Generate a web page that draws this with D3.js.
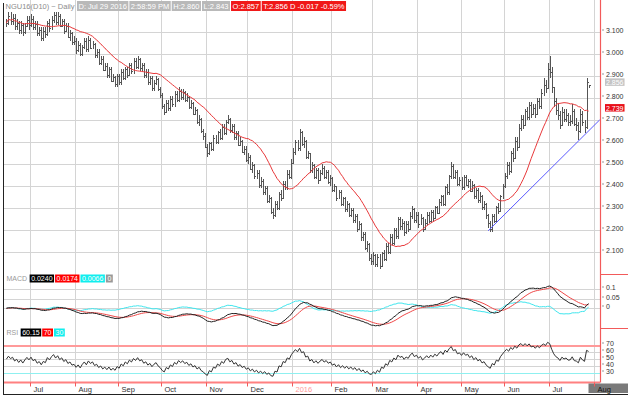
<!DOCTYPE html>
<html>
<head>
<meta charset="utf-8">
<script src="https://cdn.jsdelivr.net/npm/d3@7"></script>
<style>
  body { margin: 0; background: #fff; }
  text { font-family: "Liberation Sans", Arial, sans-serif; }
</style>
</head>
<body>
<div id="chart"></div>
<script>
// trading calendar
const startDate = "2015-06-15";
const endDate = "2016-07-29";
const holidays = ["2015-07-03", "2015-09-07", "2015-11-26", "2015-12-25", "2016-01-01",
  "2016-01-18", "2016-02-15", "2016-03-25", "2016-05-30", "2016-07-04"];

// daily closes, one line per month
const close = [
  3.140, 3.172, 3.148, 3.162, 3.125, 3.141, 3.108, 3.132, 3.098, 3.128, 3.155, 3.130,
  3.158, 3.121, 3.135, 3.092, 3.108, 3.070, 3.102, 3.088, 3.141, 3.116, 3.152, 3.178, 3.142, 3.170, 3.128, 3.148, 3.105, 3.126, 3.078, 3.094, 3.052, 3.060,
  3.018, 3.041, 2.998, 3.032, 3.058, 3.020, 3.062, 3.028, 3.045, 2.995, 3.008, 2.960, 2.975, 2.928, 2.946, 2.905, 2.930, 2.878, 2.895, 2.862, 2.898,
  2.872, 2.915, 2.888, 2.930, 2.905, 2.948, 2.922, 2.965, 2.940, 2.975, 2.935, 2.948, 2.902, 2.918, 2.872, 2.890, 2.842, 2.868, 2.885, 2.838, 2.812,
  2.762, 2.735, 2.778, 2.752, 2.795, 2.770, 2.815, 2.790, 2.832, 2.805, 2.825, 2.788, 2.802, 2.758, 2.775, 2.728, 2.742, 2.688, 2.705, 2.648, 2.625, 2.578,
  2.548, 2.592, 2.568, 2.615, 2.598, 2.642, 2.618, 2.665, 2.640, 2.688, 2.702, 2.655, 2.672, 2.621, 2.638, 2.585, 2.602, 2.555, 2.568, 2.518,
  2.532, 2.478, 2.495, 2.442, 2.458, 2.405, 2.422, 2.372, 2.390, 2.332, 2.345, 2.282, 2.268, 2.315, 2.298, 2.362, 2.345, 2.408, 2.392, 2.455, 2.438, 2.505,
  2.552, 2.598, 2.572, 2.642, 2.588, 2.605, 2.532, 2.548, 2.472, 2.495, 2.438, 2.470, 2.425, 2.458, 2.482, 2.440, 2.462, 2.418, 2.435,
  2.382, 2.398, 2.345, 2.372, 2.318, 2.342, 2.295, 2.318, 2.268, 2.290, 2.242, 2.262, 2.205, 2.228, 2.165, 2.182, 2.118, 2.135, 2.072, 2.058,
  2.085, 2.042, 2.078, 2.035, 2.092, 2.068, 2.125, 2.098, 2.165, 2.140, 2.198, 2.172, 2.248, 2.215, 2.232, 2.188, 2.225, 2.205, 2.262, 2.292, 2.245, 2.268,
  2.228, 2.255, 2.205, 2.232, 2.268, 2.238, 2.282, 2.255, 2.302, 2.278, 2.325, 2.352, 2.318, 2.395, 2.372, 2.442, 2.488, 2.438, 2.462, 2.408, 2.425,
  2.392, 2.438, 2.405, 2.422, 2.378, 2.405, 2.352, 2.382, 2.335, 2.355, 2.302, 2.318, 2.265, 2.232, 2.205, 2.262, 2.238, 2.302, 2.285, 2.352, 2.398,
  2.445, 2.492, 2.468, 2.548, 2.525, 2.602, 2.578, 2.662, 2.702, 2.675, 2.738, 2.712, 2.765, 2.728, 2.752, 2.725, 2.785, 2.762, 2.822, 2.858, 2.842, 2.930,
  2.915, 2.848, 2.785, 2.742, 2.722, 2.678, 2.735, 2.705, 2.722, 2.688, 2.692, 2.738, 2.682, 2.675, 2.648, 2.728, 2.688, 2.665, 2.873, 2.856
];

const high = [
  3.16, 3.19, 3.19, 3.18, 3.18, 3.16, 3.15, 3.15, 3.14, 3.14, 3.17, 3.17,
  3.18, 3.17, 3.15, 3.15, 3.12, 3.12, 3.12, 3.12, 3.15, 3.16, 3.17, 3.19, 3.19, 3.19, 3.18, 3.16, 3.16, 3.14, 3.14, 3.11, 3.10, 3.08,
  3.07, 3.06, 3.05, 3.04, 3.07, 3.07, 3.08, 3.07, 3.06, 3.05, 3.02, 3.02, 2.99, 2.99, 2.96, 2.96, 2.94, 2.94, 2.91, 2.90, 2.91,
  2.91, 2.93, 2.93, 2.94, 2.94, 2.96, 2.96, 2.98, 2.98, 2.99, 2.98, 2.96, 2.96, 2.93, 2.93, 2.90, 2.90, 2.88, 2.90, 2.89, 2.85,
  2.82, 2.77, 2.79, 2.79, 2.81, 2.81, 2.83, 2.83, 2.85, 2.84, 2.84, 2.83, 2.82, 2.81, 2.79, 2.78, 2.76, 2.75, 2.72, 2.71, 2.66, 2.64,
  2.59, 2.60, 2.60, 2.63, 2.63, 2.65, 2.66, 2.68, 2.68, 2.70, 2.72, 2.71, 2.68, 2.68, 2.65, 2.65, 2.62, 2.61, 2.58, 2.58,
  2.55, 2.54, 2.51, 2.50, 2.47, 2.47, 2.44, 2.43, 2.40, 2.40, 2.36, 2.35, 2.30, 2.33, 2.33, 2.37, 2.38, 2.42, 2.42, 2.47, 2.47, 2.52,
  2.57, 2.61, 2.61, 2.66, 2.65, 2.62, 2.61, 2.56, 2.55, 2.51, 2.50, 2.48, 2.48, 2.47, 2.50, 2.49, 2.47, 2.47, 2.45,
  2.44, 2.41, 2.40, 2.38, 2.38, 2.35, 2.35, 2.33, 2.32, 2.30, 2.30, 2.27, 2.27, 2.24, 2.23, 2.19, 2.19, 2.15, 2.14, 2.09,
  2.10, 2.09, 2.09, 2.09, 2.10, 2.11, 2.14, 2.14, 2.18, 2.18, 2.21, 2.21, 2.26, 2.26, 2.25, 2.24, 2.24, 2.24, 2.28, 2.31, 2.30, 2.28,
  2.28, 2.27, 2.26, 2.25, 2.28, 2.28, 2.29, 2.29, 2.31, 2.31, 2.34, 2.36, 2.36, 2.40, 2.41, 2.45, 2.51, 2.50, 2.47, 2.47, 2.44,
  2.44, 2.45, 2.45, 2.43, 2.43, 2.42, 2.41, 2.39, 2.39, 2.37, 2.36, 2.33, 2.32, 2.27, 2.24, 2.27, 2.27, 2.31, 2.32, 2.36, 2.41,
  2.46, 2.51, 2.51, 2.56, 2.57, 2.62, 2.62, 2.68, 2.72, 2.72, 2.75, 2.76, 2.78, 2.78, 2.77, 2.77, 2.80, 2.80, 2.84, 2.89, 2.88, 2.96,
  2.99, 2.94, 2.85, 2.80, 2.77, 2.74, 2.76, 2.75, 2.75, 2.73, 2.72, 2.77, 2.75, 2.71, 2.69, 2.75, 2.74, 2.70, 2.89, 2.86
];

const low = [
  3.12, 3.13, 3.13, 3.13, 3.11, 3.11, 3.09, 3.09, 3.08, 3.09, 3.12, 3.11,
  3.12, 3.11, 3.11, 3.08, 3.08, 3.06, 3.06, 3.07, 3.08, 3.10, 3.11, 3.14, 3.13, 3.13, 3.12, 3.12, 3.09, 3.10, 3.07, 3.06, 3.04, 3.04,
  3.00, 3.01, 2.99, 2.99, 3.02, 3.01, 3.01, 3.02, 3.02, 2.98, 2.98, 2.95, 2.95, 2.92, 2.92, 2.89, 2.89, 2.87, 2.87, 2.85, 2.85,
  2.86, 2.86, 2.88, 2.88, 2.89, 2.90, 2.91, 2.91, 2.93, 2.93, 2.92, 2.92, 2.89, 2.89, 2.86, 2.86, 2.83, 2.83, 2.86, 2.83, 2.80,
  2.75, 2.72, 2.73, 2.74, 2.74, 2.76, 2.76, 2.78, 2.78, 2.79, 2.79, 2.78, 2.78, 2.75, 2.75, 2.72, 2.72, 2.68, 2.67, 2.64, 2.61, 2.57,
  2.53, 2.54, 2.56, 2.56, 2.59, 2.59, 2.61, 2.61, 2.63, 2.63, 2.68, 2.64, 2.64, 2.61, 2.61, 2.58, 2.58, 2.55, 2.54, 2.51,
  2.50, 2.47, 2.46, 2.43, 2.43, 2.39, 2.39, 2.36, 2.36, 2.32, 2.32, 2.27, 2.25, 2.26, 2.29, 2.29, 2.33, 2.34, 2.38, 2.38, 2.43, 2.43,
  2.50, 2.54, 2.56, 2.56, 2.58, 2.57, 2.52, 2.52, 2.46, 2.46, 2.43, 2.43, 2.41, 2.42, 2.45, 2.43, 2.43, 2.41, 2.40,
  2.37, 2.37, 2.33, 2.34, 2.31, 2.31, 2.28, 2.28, 2.26, 2.26, 2.23, 2.23, 2.19, 2.20, 2.15, 2.15, 2.11, 2.10, 2.06, 2.04,
  2.04, 2.03, 2.03, 2.02, 2.03, 2.06, 2.06, 2.09, 2.09, 2.13, 2.13, 2.16, 2.16, 2.20, 2.20, 2.17, 2.18, 2.19, 2.20, 2.25, 2.23, 2.23,
  2.21, 2.22, 2.19, 2.20, 2.22, 2.23, 2.23, 2.24, 2.25, 2.27, 2.27, 2.31, 2.31, 2.31, 2.36, 2.36, 2.43, 2.43, 2.43, 2.40, 2.40,
  2.38, 2.38, 2.40, 2.39, 2.37, 2.37, 2.34, 2.34, 2.32, 2.32, 2.29, 2.29, 2.25, 2.21, 2.19, 2.19, 2.23, 2.23, 2.27, 2.28, 2.34,
  2.39, 2.43, 2.45, 2.46, 2.51, 2.52, 2.56, 2.57, 2.65, 2.66, 2.67, 2.70, 2.70, 2.71, 2.72, 2.71, 2.72, 2.75, 2.75, 2.81, 2.82, 2.84,
  2.89, 2.82, 2.76, 2.72, 2.70, 2.66, 2.67, 2.69, 2.69, 2.67, 2.67, 2.68, 2.67, 2.65, 2.61, 2.64, 2.67, 2.64, 2.66, 2.843
];

// trend line drawn by hand: [bar index, price]
const trendLine = [[235, 2.195], [289.4, 2.699]];

const priceTicks = [3.1, 3.0, 2.9, 2.8, 2.7, 2.6, 2.5, 2.4, 2.3, 2.2, 2.1];
const macdTicks = [0.1, 0.05, 0];
const macdTickLabels = ["0.1", "0.05", "0"];
const rsiTicks = [70, 60, 50, 40, 30];

const headerItems = [
  ["NGU16(D10) ~ Daily", "none"],
  ["D: Jul 29 2016", "gray"],
  ["2:58:59 PM", "gray"],
  ["H:2.860", "gray"],
  ["L:2.843", "gray"],
  ["O:2.857", "red"],
  ["T:2.856  D  -0.017  -0.59%", "red"]
];
const macdLegend = [["0.0240", "#000"], ["0.0174", "#f00"], ["0.0066", "#1ee"], ["0", "#999"]];
const rsiLegend = [["60.15", "#000"], ["70", "#f00"], ["30", "#1ee"]];

// ---- derived series
const fmt = d3.timeFormat("%Y-%m-%d");
const parse = d3.timeParse("%Y-%m-%d");
const dates = d3.timeDay.range(parse(startDate), d3.timeDay.offset(parse(endDate), 1))
  .filter(d => d.getDay() !== 0 && d.getDay() !== 6 && !holidays.includes(fmt(d)));
const n = Math.min(dates.length, close.length);

const open = close.map((c, i) => {
  const o = i ? close[i - 1] : c;
  return Math.max(low[i], Math.min(high[i], o));
});
const ma = close.map((c, i) => d3.mean(close.slice(Math.max(0, i - 19), i + 1)));

function ema(arr, p) {
  const k = 2 / (p + 1);
  let prev = arr[0];
  return arr.map((v, i) => (prev = i ? v * k + prev * (1 - k) : v));
}
const ema12 = ema(close, 12), ema26 = ema(close, 26);
const macd = close.map((c, i) => ema12[i] - ema26[i]);
const signal = ema(macd, 9);
const hist = macd.map((m, i) => m - signal[i]);

// Wilder RSI(14), seeded neutral
const seed = d3.mean(close.slice(1, 15).map((c, i) => Math.abs(c - close[i]))) / 2;
let ag = seed, al = seed;
const rsi = close.map((c, i) => {
  if (!i) return 50;
  const ch = c - close[i - 1];
  ag = (ag * 13 + Math.max(ch, 0)) / 14;
  al = (al * 13 + Math.max(-ch, 0)) / 14;
  return 100 - 100 / (1 + ag / al);
});

// ---- layout
const W = 628, H = 398;
const left = 3, right = 600;
const main = { top: 0, bottom: 274 }, macdP = { top: 274, bottom: 328 }, rsiP = { top: 328, bottom: 382.5 };

const x = d3.scaleLinear().domain([0, 284]).range([6.4, 588.6]);
const y = d3.scaleLinear().domain([2.0, 3.2]).range([273.7, 9.7]);
const yM = d3.scaleLinear().domain([0, 0.1]).range([308.3, 289.3]);
const yR = d3.scaleLinear().domain([30, 70]).range([373.3, 345]);

const svg = d3.select("#chart").append("svg")
  .attr("width", W).attr("height", H)
  .style("display", "block");

svg.append("rect").attr("width", W).attr("height", H).attr("fill", "#fff");

const defs = svg.append("defs");
[["clipMain", main], ["clipMacd", macdP], ["clipRsi", rsiP]].forEach(([id, p]) => {
  defs.append("clipPath").attr("id", id).append("rect")
    .attr("x", left).attr("y", p.top).attr("width", right - left).attr("height", p.bottom - p.top);
});

// month ticks
const months = [];
dates.slice(0, n).forEach((d, i) => {
  if (i && d.getMonth() !== dates[i - 1].getMonth()) months.push({ i: i, d: d });
});
const lastDate = dates[n - 1];
// next month shown at the right edge, a couple of bars past the last one
months.push({ i: n + 2, d: d3.timeMonth.offset(d3.timeMonth.floor(lastDate), 1), next: true });

const grid = svg.append("g").attr("stroke", "#d4d4d4").attr("stroke-width", 1).attr("shape-rendering", "crispEdges");
months.forEach(m => {
  const gx = Math.round(x(m.i)) - 0.5;
  grid.append("line").attr("x1", gx).attr("x2", gx).attr("y1", 0).attr("y2", rsiP.bottom);
});
priceTicks.forEach(p => {
  grid.append("line").attr("x1", left).attr("x2", right).attr("y1", Math.round(y(p)) + 0.5).attr("y2", Math.round(y(p)) + 0.5);
});
macdTicks.forEach(v => {
  grid.append("line").attr("x1", left).attr("x2", right).attr("y1", Math.round(yM(v)) + 0.5).attr("y2", Math.round(yM(v)) + 0.5);
});
rsiTicks.forEach(v => {
  const c = v === 70 ? "#ff9a9a" : v === 30 ? "#8ff0f0" : "#d4d4d4";
  grid.append("line").attr("x1", left).attr("x2", right)
    .attr("y1", Math.round(yR(v)) + 0.5).attr("y2", Math.round(yR(v)) + 0.5)
    .attr("stroke", c).attr("stroke-width", v === 70 ? 2 : 1);
});

// ---- price bars
const bars = svg.append("g").attr("clip-path", "url(#clipMain)")
  .attr("stroke", "#555").attr("stroke-width", 1).attr("shape-rendering", "crispEdges");
d3.range(n).forEach(i => {
  const bx = Math.round(x(i)) + 0.5;
  bars.append("line").attr("x1", bx).attr("x2", bx).attr("y1", y(high[i])).attr("y2", y(low[i]));
  bars.append("line").attr("x1", bx - 1).attr("x2", bx).attr("y1", Math.round(y(open[i])) + 0.5).attr("y2", Math.round(y(open[i])) + 0.5);
  bars.append("line").attr("x1", bx).attr("x2", bx + 1).attr("y1", Math.round(y(close[i])) + 0.5).attr("y2", Math.round(y(close[i])) + 0.5);
});

// moving average
svg.append("path").attr("clip-path", "url(#clipMain)")
  .datum(d3.range(n))
  .attr("fill", "none").attr("stroke", "#e8383a").attr("stroke-width", 1)
  .attr("d", d3.line().x(i => x(i)).y(i => y(ma[i])));

// trend line
svg.append("line").attr("clip-path", "url(#clipMain)")
  .attr("x1", x(trendLine[0][0])).attr("y1", y(trendLine[0][1]))
  .attr("x2", x(trendLine[1][0])).attr("y2", y(trendLine[1][1]))
  .attr("stroke", "#5a5aff").attr("stroke-width", 1);

// ---- MACD
const gM = svg.append("g").attr("clip-path", "url(#clipMacd)").attr("fill", "none");
[[hist, "#3ee6ee"], [signal, "#f04848"], [macd, "#222"]].forEach(([s, c]) => {
  gM.append("path").datum(d3.range(n)).attr("stroke", c).attr("stroke-width", 1)
    .attr("d", d3.line().x(i => x(i)).y(i => yM(s[i])));
});

// ---- RSI
svg.append("path").attr("clip-path", "url(#clipRsi)").datum(d3.range(n))
  .attr("fill", "none").attr("stroke", "#333").attr("stroke-width", 1)
  .attr("d", d3.line().x(i => x(i)).y(i => yR(rsi[i])));

// ---- frame lines
const red = "#f25a5a";
svg.append("line").attr("x1", right + 0.5).attr("x2", right + 0.5).attr("y1", 0).attr("y2", rsiP.bottom)
  .attr("stroke", red).attr("stroke-width", 1.2);
[main.bottom, macdP.bottom].forEach(yy => {
  svg.append("line").attr("x1", right).attr("x2", W).attr("y1", yy + 0.5).attr("y2", yy + 0.5)
    .attr("stroke", red).attr("stroke-width", 1);
});
svg.append("line").attr("x1", left).attr("x2", right).attr("y1", rsiP.bottom).attr("y2", rsiP.bottom)
  .attr("stroke", "#ff8080").attr("stroke-width", 2);
svg.append("line").attr("x1", left + 0.5).attr("x2", left + 0.5).attr("y1", 3).attr("y2", 395)
  .attr("stroke", "#222").attr("stroke-width", 1);
svg.append("line").attr("x1", left).attr("x2", W).attr("y1", 394.5).attr("y2", 394.5)
  .attr("stroke", "#222").attr("stroke-width", 1);

// ---- right axes
const axisG = svg.append("g").attr("font-size", 7).attr("fill", "#333");
function axisLabels(ticks, scale, labels) {
  ticks.forEach((t, k) => {
    const yy = Math.round(scale(t)) + 0.5;
    axisG.append("line").attr("x1", right + 2).attr("x2", right + 4).attr("y1", yy - 2.5).attr("y2", yy - 2.5)
      .attr("stroke", "#999");
    axisG.append("text").attr("x", right + 6).attr("y", yy).text(labels[k]);
  });
}
axisLabels(priceTicks, y, priceTicks.map(p => p.toFixed(3)));
axisLabels(macdTicks, yM, macdTickLabels);
axisLabels(rsiTicks, yR, rsiTicks.map(String));

// value boxes on the price axis
function valueBox(v, fill) {
  const yy = y(v);
  const g = svg.append("g");
  const t = g.append("text").attr("x", right + 6).attr("y", yy - 0.5).attr("font-size", 7).attr("fill", "#fff")
    .text(v.toFixed(3));
  const w = t.node().getComputedTextLength();
  g.insert("rect", "text").attr("x", right + 5).attr("y", yy - 7).attr("width", w + 2).attr("height", 7.5).attr("fill", fill);
}
valueBox(close[n - 1], "#c4c4c4");
valueBox(ma[n - 1], "#e8101a");

// ---- x axis
const monthFmt = d3.timeFormat("%b");
months.forEach(m => {
  const gx = Math.round(x(m.i)) - 0.5;
  const label = m.d.getMonth() === 0 ? String(m.d.getFullYear()) : monthFmt(m.d);
  if (m.next) {
    svg.append("rect").attr("x", gx - 6).attr("y", 383.5).attr("width", W - gx + 6).attr("height", 9.5).attr("fill", "#7a7a7a");
  }
  svg.append("line").attr("x1", gx).attr("x2", gx).attr("y1", rsiP.bottom).attr("y2", rsiP.bottom + 4)
    .attr("stroke", red);
  svg.append("text").attr("x", gx + 3).attr("y", 391.5).attr("font-size", 7.5)
    .attr("fill", m.d.getMonth() === 0 ? "#ff9a9a" : (m.next ? "#111" : "#333"))
    .text(label);
});

// ---- header and legends
function boxRow(items, x0, yTop, h, fs) {
  let cx = x0;
  items.forEach(([txt, fill, txtColor]) => {
    const g = svg.append("g");
    const t = g.append("text").attr("x", cx + 1.5).attr("y", yTop + h - 1.8).attr("font-size", fs)
      .attr("fill", txtColor).text(txt);
    const w = t.node().getComputedTextLength();
    if (fill !== "none") {
      g.insert("rect", "text").attr("x", cx).attr("y", yTop).attr("width", w + 3).attr("height", h).attr("fill", fill);
    }
    cx += w + 4;
  });
}
const headerFill = { none: "none", gray: "#b9b9b9", red: "#f01818" };
boxRow(headerItems.map(([t, k]) => [t, headerFill[k], k === "none" ? "#8c8c8c" : "#fff"]), 4, 1, 10, 7.5);

boxRow([["MACD", "none", "#9a9a9a"]].concat(macdLegend.map(([t, c]) => [t, c, "#fff"])), 5, 274.5, 8, 7);
boxRow([["RSI", "none", "#9a9a9a"]].concat(rsiLegend.map(([t, c]) => [t, c, "#fff"])), 5, 328.5, 8, 7);
</script>
</body>
</html>
